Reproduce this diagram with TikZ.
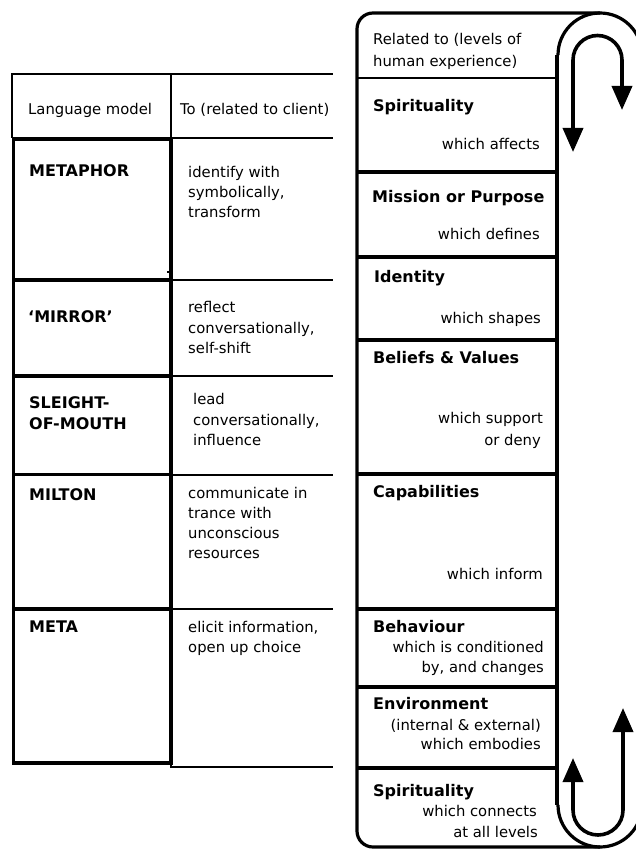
\documentclass[tikz,border=0pt]{standalone}
\usepackage{fontspec}
\setmainfont{DejaVu Sans}
\usetikzlibrary{arrows.meta}
\tikzset{
  txt/.style={font=\fontsize{14.8}{20}\selectfont, inner sep=0pt, anchor=base west},
  txtr/.style={font=\fontsize{14.8}{20}\selectfont, inner sep=0pt, anchor=base east},
  hd/.style={font=\fontsize{16}{20}\selectfont\bfseries, inner sep=0pt, anchor=base west},
  thinline/.style={line width=1.4pt},
  midline/.style={line width=2pt},
  thickline/.style={line width=3.2pt},
  uarrow/.style={line width=3.6pt, {Triangle[width=20pt,length=24pt]}-{Triangle[width=20pt,length=24pt]}}
}
\begin{document}
\begin{tikzpicture}[x=1pt,y=-1pt]
\useasboundingbox (0,0) rectangle (636,850);
\fill[white] (0,0) rectangle (636,850);
\clip (0,0) rectangle (636,850);

% ---------------- left table ----------------
% header
\draw[thinline] (12,138) -- (12,74) -- (333,74);
\draw[thinline] (171,74) -- (171,138);
\draw[midline] (171,138) -- (333,138);
% left column (thick boxes)
\draw[thickline] (13.5,139) rectangle (171,763);
\foreach \yy in {280,376,474.5,609}{\draw[thickline] (13.5,\yy) -- (171,\yy);}
\draw[thinline] (167,272) -- (171,272);
% right column
\foreach \yy in {280,376,474.5,609}{\draw[midline] (171,\yy) -- (333,\yy);}
\draw[thinline] (171,763) -- (171,767) -- (333,767);

\node[txt] (hlm) at (28,115) {Language model};
\node[txt] (hto) at (180,115) {To (related to client)};

\node[hd] (metaphor) at (29,177) {METAPHOR};
\node[txt] (m1) at (188,178) {identify with};
\node[txt] (m2) at (188,198) {symbolically,};
\node[txt] (m3) at (188,218) {transform};

\node[hd] (mirror) at (28,322) {‘MIRROR’};
\node[txt] (r1) at (188,312) {reflect};
\node[txt] (r2) at (188,333) {conversationally,};
\node[txt] (r3) at (188,353) {self-shift};

\node[hd] (sl1) at (29,408) {SLEIGHT-};
\node[hd] (sl2) at (29,429) {OF-MOUTH};
\node[txt] (s1) at (193,404) {lead};
\node[txt] (s2) at (193,425) {conversationally,};
\node[txt] (s3) at (193,445) {influence};

\node[hd] (milton) at (29,500) {MILTON};
\node[txt] (l1) at (188,498) {communicate in};
\node[txt] (l2) at (188,518) {trance with};
\node[txt] (l3) at (188,538) {unconscious};
\node[txt] (l4) at (188,558) {resources};

\node[hd] (meta) at (29,632) {META};
\node[txt] (e1) at (188,632) {elicit information,};
\node[txt] (e2) at (188,652) {open up choice};

% ---------------- right panel ----------------
\draw[thickline] (600,13) -- (373,13) arc[start angle=270, end angle=180, radius=16]
  -- (357,831) arc[start angle=180, end angle=90, radius=16] -- (600,847);
\draw[thickline] (558,55) arc[start angle=180, end angle=360, radius=42];
\draw[thickline] (558,805) arc[start angle=180, end angle=0, radius=42];
\draw[thickline] (557,55) -- (557,805);
\draw[midline] (357,78) -- (557,78);
\foreach \yy in {172,257,340,474,609,687,768}{\draw[thickline] (357,\yy) -- (557,\yy);}

\draw[uarrow] (573,152) -- (573,60) arc[start angle=180, end angle=360, radius=24.5] -- (622,110);
\draw[uarrow] (573,758) -- (573,810) arc[start angle=180, end angle=0, radius=25] -- (623,708);

\node[txt] (rel1) at (373,45) {Related to (levels of};
\node[txt] (rel2) at (373,67) {human experience)};

\node[hd] (sp) at (373,112) {Spirituality};
\node[txtr] (spw) at (540,150) {which affects};

\node[hd] (mis) at (372,203) {Mission or Purpose};
\node[txtr] (misw) at (540,240) {which defines};

\node[hd] (ide) at (374,282) {Identity};
\node[txtr] (idew) at (541,323) {which shapes};

\node[hd] (bel) at (373,363) {Beliefs \& Values};
\node[txtr] (belw1) at (543,423) {which support};
\node[txtr] (belw2) at (541,445) {or deny};

\node[hd] (cap) at (373,497) {Capabilities};
\node[txtr] (capw) at (543,579) {which inform};

\node[hd] (beh) at (373,632) {Behaviour};
\node[txtr] (behw1) at (544,652) {which is conditioned};
\node[txtr] (behw2) at (544,672) {by, and changes};

\node[hd] (env) at (373,709) {Environment};
\node[txtr] (envw1) at (541,730) {(internal \& external)};
\node[txtr] (envw2) at (541,749) {which embodies};

\node[hd] (sp2) at (373,796) {Spirituality};
\node[txtr] (sp2w1) at (537,816) {which connects};
\node[txtr] (sp2w2) at (538,837) {at all levels};
\end{tikzpicture}
\end{document}
